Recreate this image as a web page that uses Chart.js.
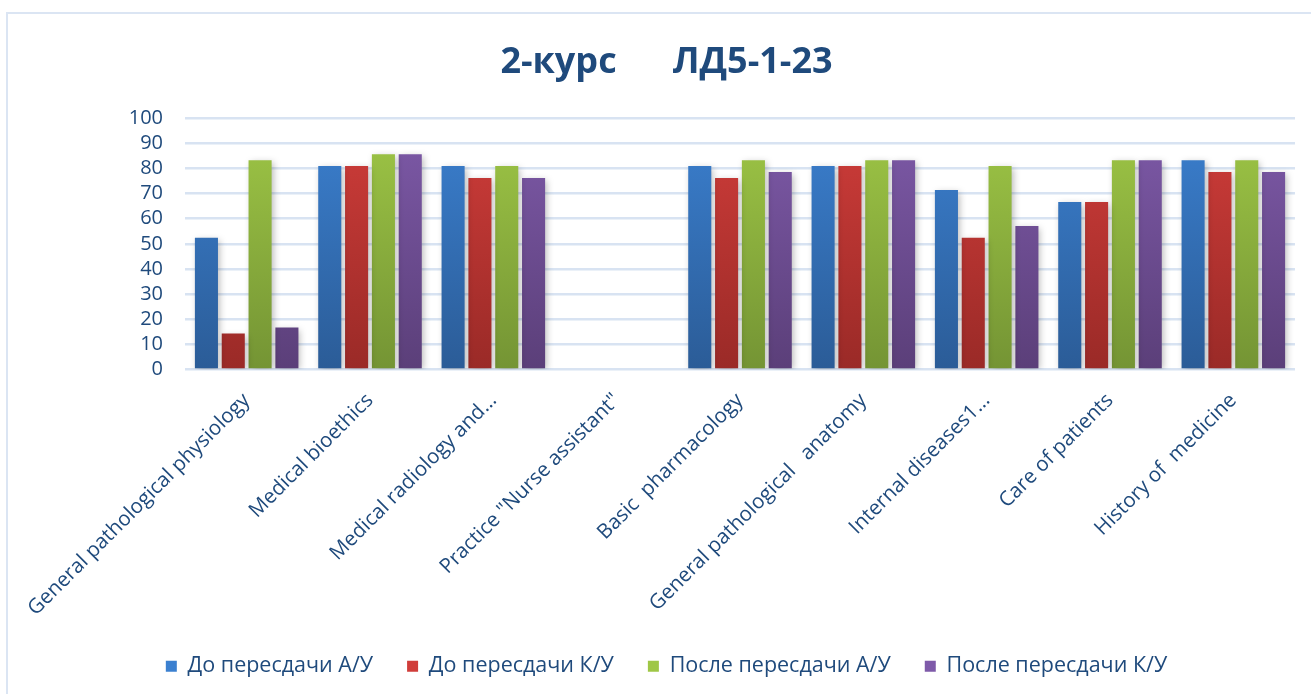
<!DOCTYPE html>
<html>
<head>
  <meta name="viewport" content="width=device-width, initial-scale=1.0">
  <title>2-курс ЛД5-1-23</title>
  <script src="https://cdn.jsdelivr.net/npm/chart.js"></script>
  <style>
    body {
      margin: 0;
      padding: 0;
      width: 1311px;
      height: 694px;
      overflow: hidden;
      background: #fff;
      position: relative;
    }
    #frame {
      position: absolute;
      left: 6px;
      top: 12px;
      width: 1400px;
      height: 800px;
      border: 2px solid #dbe5f3;
    }
    #wrap {
      position: absolute;
      left: 0;
      top: 0;
      width: 1333px;
      height: 687px;
    }
  </style>
</head>
<body>
  <div id="frame"></div>
  <div id="wrap"><canvas id="myChart"></canvas></div>

  <script>
    // data
    const subjects = [
      'General pathological physiology',
      'Medical bioethics',
      'Medical radiology and…',
      'Practice "Nurse assistant"',
      'Basic  pharmacology',
      'General pathological   anatomy',
      'Internal diseases1…',
      'Care of patients',
      'History of  medicine'
    ];
    const seriesNames = ['До пересдачи А/У', 'До пересдачи К/У', 'После пересдачи А/У', 'После пересдачи К/У'];
    const beforeAU = [52.4, 81, 81, null, 81, 81, 71.4, 66.7, 83.3];
    const beforeKU = [14.3, 81, 76.2, null, 76.2, 81, 52.4, 66.7, 78.6];
    const afterAU  = [83.3, 85.7, 81, null, 83.3, 83.3, 81, 83.3, 83.3];
    const afterKU  = [16.7, 85.7, 76.2, null, 78.6, 83.3, 57.1, 83.3, 78.6];
    const yTicks = [0, 10, 20, 30, 40, 50, 60, 70, 80, 90, 100];

    const textColor = '#1f4a7c';
    // top / bottom colours of the bar gradients
    const shades = [
      ['#3b80d0', '#2b5c97'],
      ['#d03d3a', '#9a2a27'],
      ['#9fc746', '#749434'],
      ['#7e5aa9', '#5b3f79']
    ];

    function grad(i) {
      return function (c) {
        const area = c.chart.chartArea;
        if (!area) return shades[i][0];
        const g = c.chart.ctx.createLinearGradient(0, area.top, 0, area.bottom);
        g.addColorStop(0, shades[i][0]);
        g.addColorStop(1, shades[i][1]);
        return g;
      };
    }

    // soft shadow behind the bars
    const barShadow = {
      id: 'barShadow',
      beforeDatasetsDraw(chart) {
        const ctx = chart.ctx;
        ctx.save();
        ctx.shadowColor = 'rgba(0,0,0,0.28)';
        ctx.shadowBlur = 7;
        ctx.shadowOffsetX = 2;
        ctx.shadowOffsetY = 2;
      },
      afterDatasetsDraw(chart) {
        chart.ctx.restore();
      }
    };

    const allSeries = [beforeAU, beforeKU, afterAU, afterKU];

    const ctx = document.getElementById('myChart').getContext('2d');
    const chart = new Chart(ctx, {
      type: 'bar',
      data: {
        labels: subjects,
        datasets: allSeries.map((vals, i) => ({
          label: seriesNames[i],
          data: vals,
          backgroundColor: grad(i),
          borderWidth: 0,
          barPercentage: 0.86,
          categoryPercentage: 0.87
        }))
      },
      plugins: [barShadow],
      options: {
        responsive: true,
        maintainAspectRatio: false,
        animation: false,
        layout: {
          padding: { left: 38, right: 38, top: 10, bottom: 0 }
        },
        plugins: {
          title: {
            display: true,
            text: '2-курс      ЛД5-1-23',
            color: textColor,
            font: { family: 'Open Sans', size: 36, weight: 'bold' },
            padding: { top: 31, bottom: 34 }
          },
          legend: {
            position: 'bottom',
            labels: {
              color: textColor,
              font: { family: 'Open Sans', size: 21.5 },
              boxWidth: 11,
              boxHeight: 11,
              padding: 34,
              generateLabels: (ch) => seriesNames.map((n, i) => ({
                text: n,
                fillStyle: shades[i][0],
                strokeStyle: shades[i][0],
                lineWidth: 0,
                fontColor: textColor,
                datasetIndex: i
              }))
            }
          },
          tooltip: { enabled: false }
        },
        scales: {
          x: {
            afterFit: (s) => { s.height = 252; },
            grid: { display: false },
            border: { display: false },
            ticks: {
              color: textColor,
              font: { family: 'Open Sans', size: 20.5 },
              minRotation: 45,
              maxRotation: 45,
              autoSkip: false,
              padding: 11
            }
          },
          y: {
            min: 0,
            max: 100,
            afterBuildTicks: (s) => { s.ticks = yTicks.map(v => ({ value: v })); },
            afterFit: (s) => { s.width = 147; },
            grid: { color: '#d8e3f2', lineWidth: 2.5, drawTicks: false },
            border: { display: false },
            ticks: {
              color: textColor,
              font: { family: 'Open Sans', size: 20 },
              autoSkip: false,
              padding: 22
            }
          }
        }
      }
    });
  </script>
</body>
</html>
